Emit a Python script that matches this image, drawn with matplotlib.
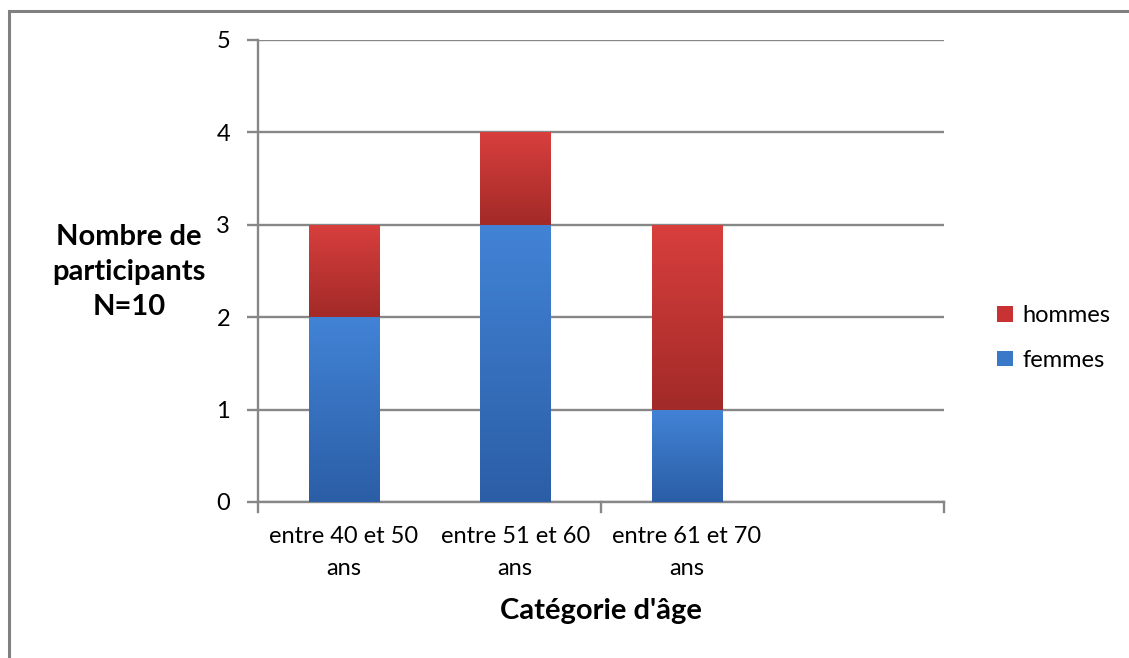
import matplotlib
matplotlib.use("Agg")
import matplotlib.pyplot as plt
import numpy as np
from matplotlib.colors import LinearSegmentedColormap
from matplotlib.patches import Rectangle

categories = ["entre 40 et 50\nans", "entre 51 et 60\nans", "entre 61 et 70\nans", ""]
femmes = [2, 3, 1, 0]
hommes = [1, 1, 2, 0]
yticks = [0, 1, 2, 3, 4, 5]

plt.rcParams['font.family'] = ['Lato', 'DejaVu Sans']

fig = plt.figure(figsize=(11.29, 6.58), dpi=100)
ax = fig.add_axes([258/1129, 1-502/658, (944-258)/1129, (502-40)/658])

grey = "#878787"
x = np.arange(len(categories))
w = 0.41
b1 = ax.bar(x, femmes, w, color="#3a78c8", label="femmes", zorder=3)
b2 = ax.bar(x, hommes, w, bottom=femmes, color="#c83232", label="hommes", zorder=3)

cm_blue = LinearSegmentedColormap.from_list("b", ["#2b5ea6", "#4283d6"])
cm_red = LinearSegmentedColormap.from_list("r", ["#a22a28", "#d83f3d"])
grad = np.linspace(0, 1, 256).reshape(-1, 1)
for bars, cm in ((b1, cm_blue), (b2, cm_red)):
    for p in bars:
        if p.get_height() <= 0:
            continue
        x0, y0 = p.get_x(), p.get_y()
        x1, y1 = x0 + p.get_width(), y0 + p.get_height()
        im = ax.imshow(grad, cmap=cm, extent=(x0, x1, y0, y1), origin="lower",
                       aspect="auto", zorder=3.5, interpolation="bicubic")
        im.set_clip_path(p)

ax.set_xlim(-0.5, len(categories) - 0.5)
ax.set_ylim(0, 5)
ax.set_yticks(yticks)
ax.set_yticklabels([str(v) for v in yticks], fontsize=17)
ax.yaxis.grid(True, color=grey, linewidth=1.7, zorder=1)
ax.set_axisbelow(True)

ax.set_xticks(x)
ax.set_xticklabels(categories, fontsize=17, linespacing=1.65)
ax.tick_params(axis="x", length=0, pad=17)
ax.tick_params(axis="y", length=8, width=1.7, color=grey, pad=12)
# category boundary tick marks (every two categories)
for xb in [-0.5, 1.5, 3.5]:
    ax.plot([xb, xb], [0, -0.11], color=grey, lw=1.7, clip_on=False, zorder=2)

for s in ["top", "right"]:
    ax.spines[s].set_visible(False)
ax.spines["left"].set_color(grey)
ax.spines["left"].set_linewidth(1.7)
ax.spines["bottom"].set_color(grey)
ax.spines["bottom"].set_linewidth(1.7)

ax.set_xlabel("Catégorie d'âge", fontsize=21, fontweight="bold", labelpad=14)
fig.text(129/1129, 1-272/658, "Nombre de\nparticipants\nN=10", ha="center", va="center",
         fontsize=21, fontweight="bold", linespacing=1.45)

handles = [b2, b1]
leg = fig.legend(handles, ["hommes", "femmes"], loc="center left",
                 bbox_to_anchor=(976/1129, 1-338/658), frameon=False, fontsize=17,
                 handlelength=0.65, handleheight=0.65, handletextpad=0.4, labelspacing=1.0)

# outer frame (only top and left visible)
fig.patches.append(Rectangle((9/1129, -0.1), 1.2, 1 - 11/658 + 0.1, transform=fig.transFigure,
                             fill=False, edgecolor="#808080", linewidth=2.2))

fig.savefig("out.png", dpi=100, facecolor="white")
